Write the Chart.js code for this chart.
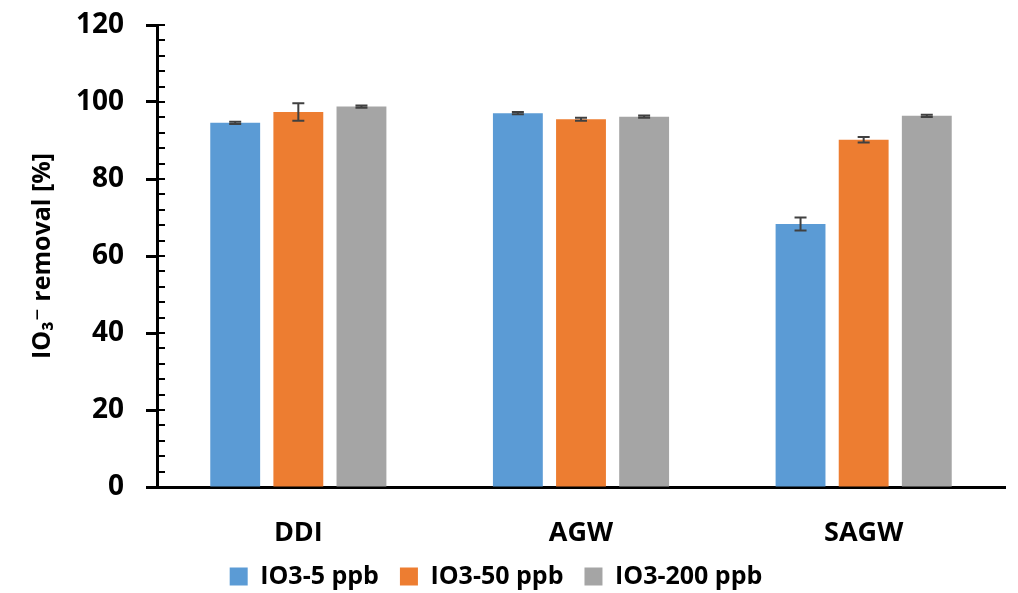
<!DOCTYPE html>
<html>
<head>
<meta charset="utf-8">
<script src="https://cdn.jsdelivr.net/npm/chart.js@4.4.1/dist/chart.umd.min.js"></script>
<style>
  html, body { margin: 0; padding: 0; background: #fff; }
  #wrap { width: 1018px; height: 593px; position: relative; }
</style>
</head>
<body>
<div id="wrap"><canvas id="graph1"></canvas></div>
<script>
const categories = ['DDI', 'AGW', 'SAGW'];
const seriesNames = ['IO3-5 ppb', 'IO3-50 ppb', 'IO3-200 ppb'];
const io3_5 = [94.6, 97.1, 68.3];
const io3_50 = [97.4, 95.5, 90.2];
const io3_200 = [98.8, 96.2, 96.4];
const err_5 = [0.3, 0.3, 1.7];
const err_50 = [2.3, 0.4, 0.7];
const err_200 = [0.3, 0.3, 0.3];
const yTicks = [0, 20, 40, 60, 80, 100, 120];

const colors = ['#5B9BD5', '#ED7D31', '#A5A5A5'];
const font = "'Open Sans', 'DejaVu Sans', sans-serif";

// error bars, drawn from the bar elements and the y scale
const errorBars = {
  id: 'errorBars',
  afterDatasetsDraw(chart) {
    const ctx = chart.ctx;
    const y = chart.scales.y;
    const errs = [err_5, err_50, err_200];
    ctx.save();
    ctx.strokeStyle = '#404040';
    ctx.lineWidth = 2;
    chart.data.datasets.forEach((ds, i) => {
      chart.getDatasetMeta(i).data.forEach((bar, j) => {
        const v = ds.data[j], e = errs[i][j];
        const top = y.getPixelForValue(v + e), bot = y.getPixelForValue(v - e);
        ctx.beginPath();
        ctx.moveTo(bar.x, top); ctx.lineTo(bar.x, bot);
        ctx.moveTo(bar.x - 6, top); ctx.lineTo(bar.x + 6, top);
        ctx.moveTo(bar.x - 6, bot); ctx.lineTo(bar.x + 6, bot);
        ctx.stroke();
      });
    });
    ctx.restore();
  }
};

// minor ticks on the inside of the y axis
const minorTicks = {
  id: 'minorTicks',
  afterDraw(chart) {
    const ctx = chart.ctx;
    const y = chart.scales.y;
    const x0 = chart.chartArea.left;
    ctx.save();
    ctx.strokeStyle = '#000';
    ctx.lineWidth = 2;
    for (let v = y.min; v <= y.max; v += 4) {
      const py = Math.round(y.getPixelForValue(v));
      ctx.beginPath();
      ctx.moveTo(x0, py);
      ctx.lineTo(x0 + 8, py);
      ctx.stroke();
    }
    ctx.restore();
  }
};

const ctx = document.getElementById('graph1').getContext('2d');

const data = {
  labels: categories,
  datasets: [
    { label: seriesNames[0], data: io3_5, backgroundColor: colors[0] },
    { label: seriesNames[1], data: io3_50, backgroundColor: colors[1] },
    { label: seriesNames[2], data: io3_200, backgroundColor: colors[2] }
  ]
};

const options = {
  responsive: true,
  maintainAspectRatio: false,
  animation: false,
  categoryPercentage: 0.67,
  barPercentage: 0.79,
  layout: { padding: { left: 0, right: 13, top: 25, bottom: -6 } },
  plugins: {
    legend: {
      position: 'bottom',
      labels: {
        boxWidth: 18, boxHeight: 18, padding: 8, color: '#000',
        font: { family: font, size: 25, weight: 'bold' },
        generateLabels: c => Chart.defaults.plugins.legend.labels.generateLabels(c)
          .map(l => Object.assign(l, { text: l.text + '  ' }))
      }
    },
    tooltip: { enabled: false }
  },
  scales: {
    x: {
      afterFit: s => { s.height = 69; },
      grid: { display: false, drawTicks: false },
      border: { color: '#000', width: 3 },
      ticks: { color: '#000', padding: 30, font: { family: font, size: 27, weight: 'bold' } }
    },
    y: {
      min: 0, max: 120,
      afterBuildTicks: s => { s.ticks = yTicks.map(v => ({ value: v })); },
      afterFit: s => { s.width = 157; s.paddingTop = 0; },
      grid: { drawOnChartArea: false, drawTicks: true, tickLength: 11, tickWidth: 3, tickColor: '#000' },
      border: { color: '#000', width: 3 },
      ticks: { color: '#000', padding: 22, font: { family: font, size: 28, weight: 'bold' } },
      title: {
        display: true, text: 'IO\u2083\u207B removal [%]', color: '#000', padding: { top: 28, bottom: 0 },
        font: { family: font, size: 25, weight: 'bold' }
      }
    }
  }
};

const config = { type: 'bar', data: data, options: options, plugins: [errorBars, minorTicks] };
const chart = new Chart(ctx, config);
</script>
</body>
</html>
